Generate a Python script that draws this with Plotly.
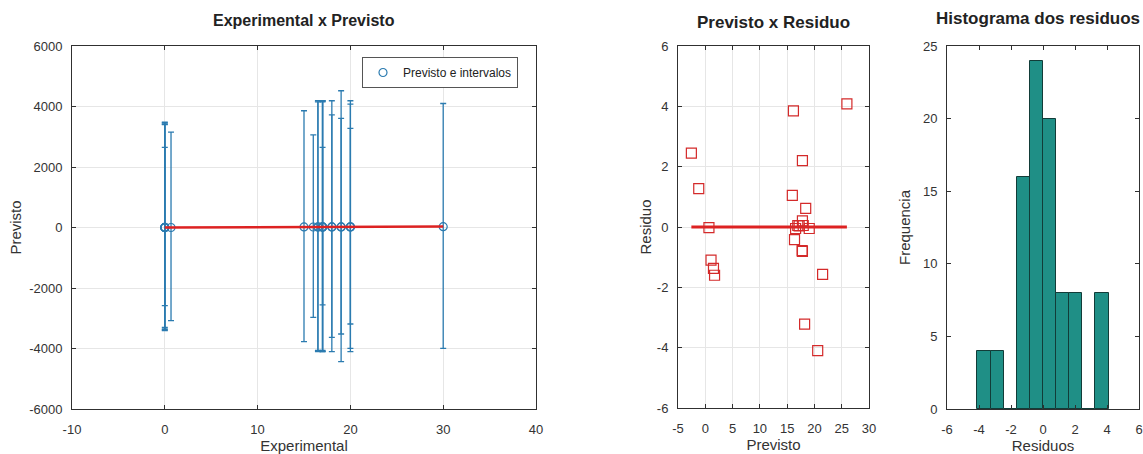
import plotly.graph_objects as go

# Observed (experimental) values, model predictions and residuals
experimental = [0, 0, 0.67, 0, 0, 0,
                20, 20, 17, 19, 18, 16.5, 17, 18, 19, 17,
                16, 17, 17, 20, 15, 16.5, 30]
previsto = [-2.55, -1.2, 0.67, 1.05, 1.5, 1.7,
            16.15, 17.8, 15.95, 18.4, 17.8, 16.55, 16.95, 17.95, 19.05, 17.2,
            16.35, 17.75, 17.8, 21.5, 18.2, 20.6, 25.95]
residuo = [2.45, 1.27, -0.02, -1.1, -1.37, -1.6,
           3.85, 2.2, 1.05, 0.62, 0.2, -0.05, 0.05, 0.05, -0.05, 0.04,
           -0.42, -0.78, -0.81, -1.57, -3.22, -4.1, 4.08]

# Prediction interval bounds (upper / lower) for each point
int_sup = [3480, 3420, 3150, 2650, 3450, 3400,
           4190, 4080, 4190, 4520, 4190, 4190, 4150, 3720, 3610, 2650,
           3060, 4180, 4190, 3280, 3860, 4150, 4100]
int_inf = [-3300, -3410, -3080, -2585, -3380, -3350,
           -4105, -3995, -4105, -4435, -4105, -4105, -4060, -3630, -3520, -2560,
           -2970, -4090, -4105, -3190, -3775, -4060, -3995]

# Residual histogram
hist_centros = [-3.69, -2.87, -2.05, -1.23, -0.41, 0.41, 1.23, 2.05, 2.87, 3.69]
hist_freq = [4, 4, 0, 16, 24, 20, 8, 8, 0, 8]
largura_bin = 0.82

# Tick values per axis
ticks_exp = [-10, 0, 10, 20, 30, 40]
ticks_prev = [-6000, -4000, -2000, 0, 2000, 4000, 6000]
ticks_prev2 = [-5, 0, 5, 10, 15, 20, 25, 30]
ticks_res = [-6, -4, -2, 0, 2, 4, 6]
ticks_freq = [0, 5, 10, 15, 20, 25]

W, H = 1143, 454

def dom_x(a, b):
    return [a / W, b / W]

def dom_y(top, bottom):
    return [1 - bottom / H, 1 - top / H]

AZUL = "#2b7bb0"
VERMELHO = "#dd2222"
TEAL = "#1f8f86"
EIXO = "#303030"
FONTE = "Liberation Sans, Arial, sans-serif"

fig = go.Figure()

# Left panel: predictions with intervals
fig.add_trace(go.Scatter(
    x=experimental, y=previsto, mode="markers",
    name="Previsto e intervalos",
    marker=dict(symbol="circle-open", size=8, color=AZUL, line=dict(width=1.2)),
    error_y=dict(type="data", symmetric=False,
                 array=[s - p for s, p in zip(int_sup, previsto)],
                 arrayminus=[p - i for i, p in zip(int_inf, previsto)],
                 color=AZUL, thickness=1.3, width=3),
    xaxis="x", yaxis="y", showlegend=True,
))
xmin, xmax = min(experimental), max(experimental)
fig.add_trace(go.Scatter(
    x=[xmin, xmax], y=[xmin, xmax], mode="lines",
    line=dict(color=VERMELHO, width=2.5),
    xaxis="x", yaxis="y", showlegend=False,
))

# Middle panel: residuals vs prediction
pmin, pmax = min(previsto), max(previsto)
fig.add_trace(go.Scatter(
    x=[pmin, pmax], y=[0, 0], mode="lines",
    line=dict(color=VERMELHO, width=3),
    xaxis="x2", yaxis="y2", showlegend=False,
))
fig.add_trace(go.Scatter(
    x=previsto, y=residuo, mode="markers",
    marker=dict(symbol="square-open", size=10, color="#d42a2a", line=dict(width=1.2)),
    xaxis="x2", yaxis="y2", showlegend=False,
))

# Right panel: histogram
fig.add_trace(go.Bar(
    x=hist_centros, y=hist_freq, width=largura_bin,
    marker=dict(color=TEAL, line=dict(color="#123c38", width=1)),
    xaxis="x3", yaxis="y3", showlegend=False,
))

eixo_base = dict(
    showline=True, linecolor=EIXO, linewidth=1, mirror="allticks",
    ticks="inside", ticklen=4, tickcolor=EIXO,
    tickfont=dict(family=FONTE, size=13, color="#333333"),
    zeroline=False, automargin=False,
)
titulo_eixo = dict(family=FONTE, size=15, color="#333333")


def eixo_x(vals, dominio, rng, ancora, titulo, grade):
    return dict(**eixo_base, domain=dominio, range=rng, anchor=ancora,
                tickmode="array", tickvals=vals, ticktext=[str(v) for v in vals],
                ticklabelstandoff=8, showgrid=grade, gridcolor="#e6e6e6",
                title=dict(text=titulo, font=titulo_eixo, standoff=3))


def eixo_y(vals, dominio, rng, ancora, titulo, grade, afast):
    return dict(**eixo_base, domain=dominio, range=rng, anchor=ancora,
                tickmode="array", tickvals=vals, ticktext=[str(v) for v in vals],
                ticklabelstandoff=6, showgrid=grade, gridcolor="#e6e6e6",
                title=dict(text=titulo, font=titulo_eixo, standoff=afast))


def titulo(texto, xc, yc, tam):
    return dict(text="<b>" + texto + "</b>", x=xc / W, y=1 - yc / H,
                xref="paper", yref="paper", showarrow=False,
                xanchor="center", yanchor="middle",
                font=dict(family=FONTE, size=tam, color="#222222"))


fig.update_layout(
    width=W, height=H,
    margin=dict(l=0, r=0, t=0, b=0),
    paper_bgcolor="white", plot_bgcolor="white",
    font=dict(family=FONTE, color="#333333"),
    bargap=0,
    xaxis=eixo_x(ticks_exp, dom_x(72, 536), [-10, 40], "y", "Experimental", True),
    yaxis=eixo_y(ticks_prev, dom_y(46, 409), [-6000, 6000], "x", "Previsto", True, 3),
    xaxis2=eixo_x(ticks_prev2, dom_x(678, 869), [-5, 30], "y2", "Previsto", True),
    yaxis2=eixo_y(ticks_res, dom_y(46, 408), [-6, 6], "x2", "Residuo", True, 1),
    xaxis3=eixo_x(ticks_res, dom_x(947, 1139), [-6, 6], "y3", "Residuos", False),
    yaxis3=eixo_y(ticks_freq, dom_y(46, 409), [0, 25], "x3", "Frequencia", False, 8),
    legend=dict(x=362 / W, y=1 - 57 / H, xanchor="left", yanchor="top",
                bordercolor="#555555", borderwidth=1, bgcolor="white",
                font=dict(family=FONTE, size=12, color="#222222")),
    annotations=[
        titulo("Experimental x Previsto", 304, 20, 16),
        titulo("Previsto x Residuo", 773, 22, 17),
        titulo("Histograma dos residuos", 1038, 19, 17),
    ],
)

fig.write_html("out.html")
